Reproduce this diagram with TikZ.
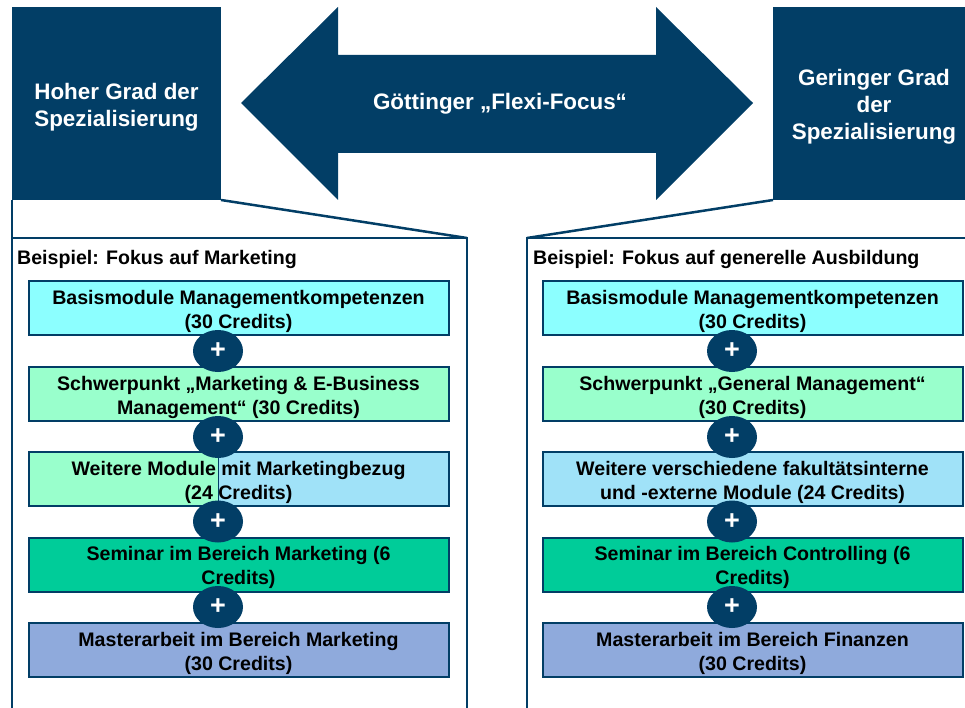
\documentclass[tikz,border=0pt]{standalone}
\usepackage{fontspec}
\setmainfont{Liberation Sans}
\usetikzlibrary{shapes,positioning}
\definecolor{dblue}{HTML}{023E66}
\definecolor{modcyan}{HTML}{8CFFFF}
\definecolor{modmint}{HTML}{99FFCC}
\definecolor{modsky}{HTML}{A0E2F8}
\definecolor{modteal}{HTML}{00CC99}
\definecolor{modlav}{HTML}{8FAADC}
\newcommand{\hstrut}{\rule{0pt}{23pt}}
\newcommand{\mstrut}{\rule{0pt}{20.5pt}}

\begin{document}
\begin{tikzpicture}
  [x=1pt,y=-1pt,
   head/.style={fill=dblue,text=white,align=center,inner sep=0pt,outer sep=0pt,
     font=\fontsize{22.4}{27}\selectfont\bfseries},
   panel/.style={draw=dblue,line width=2.5pt,inner sep=0pt,outer sep=0pt},
   bsp/.style={anchor=west,inner sep=0pt,font=\fontsize{19.6}{24}\selectfont\bfseries},
   modbox/.style={draw=dblue,line width=2pt,minimum width=420pt,minimum height=54pt,
     inner sep=0pt,align=center,font=\fontsize{19.6}{24}\selectfont\bfseries},
   plus/.style={ellipse,fill=dblue,text=white,minimum width=50pt,minimum height=42pt,
     inner sep=0pt,font=\fontsize{27}{27}\selectfont\bfseries}]
  \useasboundingbox (0,0) rectangle (965,708);
  \clip (0,0) rectangle (965,708);

  % top row
  \node[head,minimum width=209pt,minimum height=193pt] (hoch) at (116.5,103.5)
    {\hstrut Hoher Grad der\\Spezialisierung};
  \node[head,minimum width=202pt,minimum height=193pt] (gering) at (874,103.5)
    {\hstrut Geringer Grad\\der\\Spezialisierung};
  \fill[dblue] (241,103) -- (338,7) -- (338,55) -- (656,55) -- (656,7) -- (753,103)
    -- (656,200) -- (656,153) -- (338,153) -- (338,200) -- cycle;
  \node[text=white,font=\fontsize{22.4}{27}\selectfont\bfseries] (flexi) at (500,104)
    {Göttinger „Flexi-Focus“};

  % panels
  \node[panel,minimum width=455pt,minimum height=482pt] (lpanel) at (239.5,479) {};
  \node[panel,minimum width=458pt,minimum height=482pt] (rpanel) at (756,479) {};
  \foreach \from/\to in {hoch.south west/lpanel.north west,hoch.south east/lpanel.north east,
                         gering.south west/rpanel.north west,gering.south east/rpanel.north east}
    \draw[dblue,line width=2.5pt] (\from) -- (\to);

  \node[bsp] (lbsp) at (17,259) {Beispiel: Fokus auf Marketing};
  \node[bsp] (rbsp) at (533,259) {Beispiel: Fokus auf generelle Ausbildung};

  % left column
  \node[modbox,fill=modcyan] (l1) at (238.5,308)
    {\mstrut Basismodule Managementkompetenzen\\(30 Credits)};
  \node[modbox,fill=modmint] (l2) at (238.5,394)
    {\mstrut Schwerpunkt „Marketing \& E-Business\\Management“ (30 Credits)};
  \fill[modmint] (28,452) rectangle (218,506);
  \fill[modsky] (218,452) rectangle (449,506);
  \draw[dblue,line width=1pt] (218,452) -- (218,506);
  \node[modbox] (l3) at (238.5,479)
    {\mstrut Weitere Module mit Marketingbezug\\(24 Credits)};
  \node[modbox,fill=modteal] (l4) at (238.5,564.5)
    {\mstrut Seminar im Bereich Marketing (6\\Credits)};
  \node[modbox,fill=modlav] (l5) at (238.5,650)
    {\mstrut Masterarbeit im Bereich Marketing\\(30 Credits)};

  % right column
  \node[modbox,fill=modcyan] (r1) at (752.5,308)
    {\mstrut Basismodule Managementkompetenzen\\(30 Credits)};
  \node[modbox,fill=modmint] (r2) at (752.5,394)
    {\mstrut Schwerpunkt „General Management“\\(30 Credits)};
  \node[modbox,fill=modsky] (r3) at (752.5,479)
    {\mstrut Weitere verschiedene fakultätsinterne\\und -externe Module (24 Credits)};
  \node[modbox,fill=modteal] (r4) at (752.5,564.5)
    {\mstrut Seminar im Bereich Controlling (6\\Credits)};
  \node[modbox,fill=modlav] (r5) at (752.5,650)
    {\mstrut Masterarbeit im Bereich Finanzen\\(30 Credits)};

  \foreach \i/\y in {1/351,2/437,3/521.5,4/607} {
    \node[plus] (lp\i) at (218,\y) {+};
    \node[plus] (rp\i) at (732,\y) {+};
  }
\end{tikzpicture}
\end{document}
